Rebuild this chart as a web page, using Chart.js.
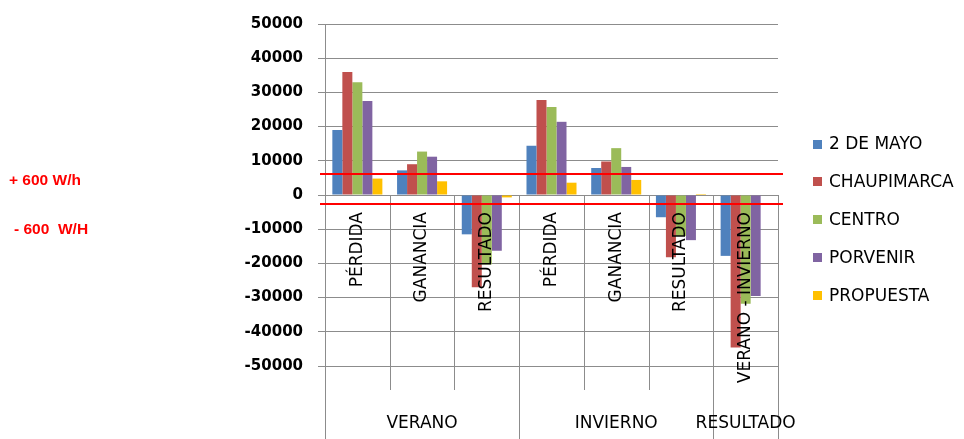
<!DOCTYPE html>
<html>
<head>
<meta charset="utf-8">
<script src="https://cdn.jsdelivr.net/npm/chart.js@4"></script>
<style>
  html, body { margin: 0; padding: 0; background: #fff; }
  #wrap { position: relative; width: 964px; height: 439px; }
</style>
</head>
<body>
<div id="wrap"><canvas id="c" width="964" height="439"></canvas></div>
<script>
// Categories on the lower axis level and the groups they belong to
const categories = ['PÉRDIDA', 'GANANCIA', 'RESULTADO', 'PÉRDIDA', 'GANANCIA', 'RESULTADO', 'VERANO - INVIERNO'];
const groupLabels = ['VERANO', 'INVIERNO', 'RESULTADO'];
const groupSpans = [3, 3, 1];

// Series values per category
const seriesNames = ['2 DE MAYO', 'CHAUPIMARCA', 'CENTRO', 'PORVENIR', 'PROPUESTA'];
const dosDeMayo   = [19000,  7200, -11500, 14400,  7900,  -6500, -17800];
const chaupimarca = [36000,  9000, -27000, 27800,  9800, -18200, -44600];
const centro      = [33000, 12700, -20300, 25700, 13700, -12000, -31800];
const porvenir    = [27500, 11200, -16300, 21400,  8200, -13200, -29500];
const propuesta   = [ 4800,  4000,   -700,  3600,  4400,    300,      0];
const seriesColors = ['#4F81BD', '#C0504D', '#9BBB59', '#8064A2', '#FFC000'];

// Value axis ticks
const yMin = -50000, yMax = 50000, yStep = 10000;

// Reference limit lines and their captions
const limitValues = [6000, -2700];
const limitLabels = ['+ 600 W/h', '- 600  W/H'];

const FONT = '"DejaVu Sans", sans-serif';
const GRID = '#8c8c8c';

const overlay = {
  id: 'overlay',
  beforeDatasetsDraw(chart) {
    const { ctx, chartArea, scales: { x, y } } = chart;
    const H = chart.height;
    const y0 = Math.round(y.getPixelForValue(0));
    const half = (x.getPixelForValue(1) - x.getPixelForValue(0)) / 2;
    const n = categories.length;
    const groupEdges = new Set([0]);
    let acc = 0;
    groupSpans.forEach(s => { acc += s; groupEdges.add(acc); });
    ctx.save();
    ctx.strokeStyle = GRID;
    ctx.lineWidth = 1;
    for (let i = 0; i <= n; i++) {
      const px = Math.round(x.getPixelForValue(i) - half) + 0.5;
      const bottom = groupEdges.has(i) ? H : chartArea.bottom + 24;
      ctx.beginPath();
      ctx.moveTo(px, i === 0 ? chartArea.bottom : y0);
      ctx.lineTo(px, bottom);
      ctx.stroke();
    }
    ctx.restore();
  },
  afterDatasetsDraw(chart) {
    const { ctx, chartArea, scales: { y } } = chart;
    ctx.save();
    ctx.strokeStyle = '#FF0000';
    ctx.lineWidth = 2;
    limitValues.forEach(v => {
      const py = Math.round(y.getPixelForValue(v));
      ctx.beginPath();
      ctx.moveTo(chartArea.left - 5, py);
      ctx.lineTo(chartArea.right + 5, py);
      ctx.stroke();
    });
    ctx.restore();
  },
  afterDraw(chart) {
    const { ctx, chartArea, scales: { x } } = chart;
    const H = chart.height;
    const half = (x.getPixelForValue(1) - x.getPixelForValue(0)) / 2;
    ctx.save();
    // group captions on the second axis level
    ctx.fillStyle = '#000';
    ctx.font = '17px ' + FONT;
    ctx.textAlign = 'center';
    ctx.textBaseline = 'middle';
    let start = 0;
    groupLabels.forEach((g, i) => {
      const l = x.getPixelForValue(start) - half;
      const r = x.getPixelForValue(start + groupSpans[i] - 1) + half;
      ctx.fillText(g, (l + r) / 2, H - 15);
      start += groupSpans[i];
    });
    // legend
    ctx.textAlign = 'left';
    const lx = chartArea.right + 35;
    chart.data.datasets.forEach((ds, i) => {
      const cy = 144 + i * 37.8;
      ctx.fillStyle = ds.backgroundColor;
      ctx.fillRect(lx, Math.round(cy - 4.5), 9, 9);
      ctx.fillStyle = '#000';
      ctx.fillText(ds.label, lx + 16, cy + 1);
    });
    // limit captions
    ctx.fillStyle = '#FF0000';
    ctx.font = 'bold 15.5px "Liberation Sans", Arial, sans-serif';
    ctx.textBaseline = 'alphabetic';
    ctx.fillText(limitLabels[0], 9, 185);
    ctx.fillText(limitLabels[1], 14, 234);
    ctx.restore();
  }
};

const seriesData = [dosDeMayo, chaupimarca, centro, porvenir, propuesta];

new Chart(document.getElementById('c'), {
  type: 'bar',
  data: {
    labels: categories,
    datasets: seriesNames.map((name, i) => ({
      label: name,
      data: seriesData[i],
      backgroundColor: seriesColors[i],
      borderWidth: 0
    }))
  },
  options: {
    responsive: false,
    animation: false,
    devicePixelRatio: 1,
    layout: { padding: { left: 0, right: 186, top: 17, bottom: 73 } },
    plugins: { legend: { display: false }, tooltip: { enabled: false } },
    datasets: { bar: { categoryPercentage: 0.773, barPercentage: 1 } },
    scales: {
      x: {
        position: { y: 0 },
        grid: { display: false, drawTicks: false, tickLength: 0 },
        border: { display: false },
        ticks: {
          z: 1,
          autoSkip: false,
          minRotation: 90,
          maxRotation: 90,
          padding: 17,
          color: '#000',
          font: { family: FONT, size: 17 }
        }
      },
      y: {
        min: yMin,
        max: yMax,
        afterFit(scale) { scale.width = 325; },
        grid: { color: GRID, tickLength: 7 },
        border: { color: GRID },
        ticks: {
          stepSize: yStep,
          padding: 15,
          color: '#000',
          font: { family: FONT, size: 15, weight: 'bold' },
          callback: v => String(v)
        }
      }
    }
  },
  plugins: [overlay]
});
</script>
</body>
</html>
